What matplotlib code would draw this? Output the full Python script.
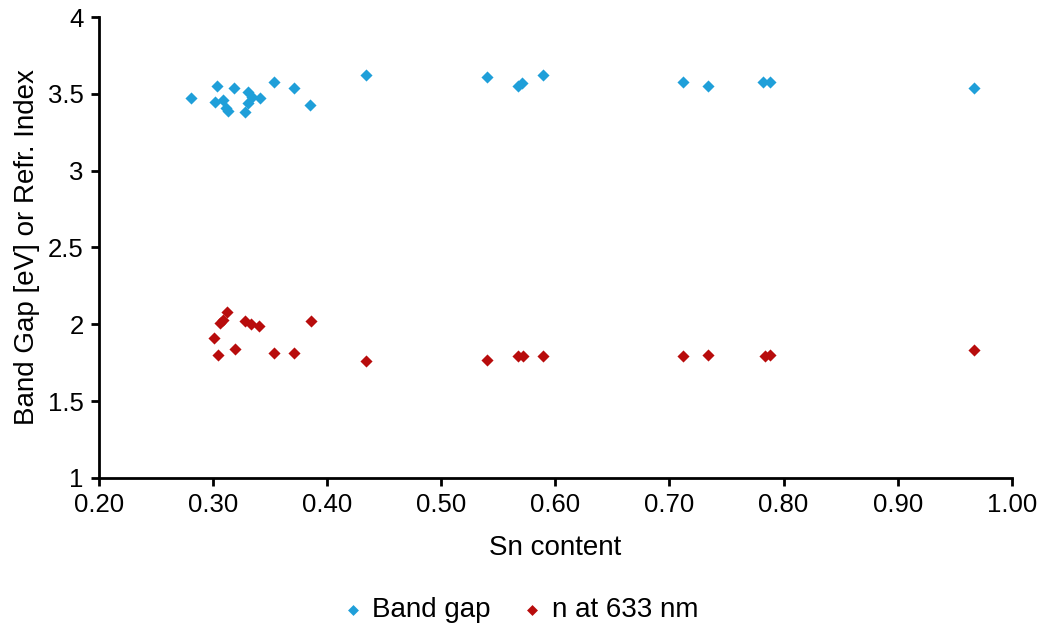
import matplotlib.pyplot as plt

plt.rcParams['font.family'] = ['Liberation Sans', 'DejaVu Sans']

# Sn content vs band gap
gap_x = [0.281, 0.303, 0.318, 0.302, 0.309, 0.311, 0.313, 0.331, 0.334, 0.341,
         0.331, 0.328, 0.353, 0.371, 0.385, 0.434, 0.540, 0.567, 0.571, 0.589,
         0.712, 0.734, 0.782, 0.788, 0.967]
gap_y = [3.47, 3.55, 3.54, 3.45, 3.46, 3.41, 3.39, 3.51, 3.48, 3.47,
         3.44, 3.38, 3.58, 3.54, 3.43, 3.62, 3.61, 3.55, 3.57, 3.62,
         3.58, 3.55, 3.58, 3.58, 3.54]

# Sn content vs refractive index at 633 nm
n_x = [0.301, 0.304, 0.306, 0.309, 0.312, 0.319, 0.328, 0.333, 0.340, 0.353,
       0.371, 0.386, 0.434, 0.540, 0.567, 0.572, 0.589, 0.712, 0.734, 0.784,
       0.788, 0.967]
n_y = [1.91, 1.80, 2.01, 2.03, 2.08, 1.84, 2.02, 2.00, 1.99, 1.81,
       1.81, 2.02, 1.76, 1.77, 1.79, 1.79, 1.79, 1.79, 1.80, 1.79,
       1.80, 1.83]

fig = plt.figure(figsize=(10.42, 6.32), dpi=100)
ax = fig.add_axes([0.095, 0.244, 0.876, 0.729])

ax.scatter(gap_x, gap_y, marker='D', s=38, color='#1F9FD9', linewidths=0,
           label='Band gap')
ax.scatter(n_x, n_y, marker='D', s=38, color='#B80C0C', linewidths=0,
           label='n at 633 nm')

ax.set_xlim(0.2, 1.0)
ax.set_ylim(1, 4)
ax.set_xticks([0.2 + 0.1 * i for i in range(9)])
ax.set_xticklabels(['%.2f' % (0.2 + 0.1 * i) for i in range(9)])
ax.set_yticks([1, 1.5, 2, 2.5, 3, 3.5, 4])
ax.set_yticklabels(['1', '1.5', '2', '2.5', '3', '3.5', '4'])

ax.spines['top'].set_visible(False)
ax.spines['right'].set_visible(False)
ax.spines['left'].set_linewidth(2)
ax.spines['bottom'].set_linewidth(2)
ax.tick_params(direction='out', length=6, width=2, labelsize=18.5, pad=5)

ax.set_xlabel('Sn content', fontsize=20, labelpad=13)
ax.set_ylabel('Band Gap [eV] or Refr. Index', fontsize=20, labelpad=6)

fig.legend(loc='center', bbox_to_anchor=(0.499, 0.035), ncol=2, frameon=False,
           fontsize=20, handlelength=0.8, handletextpad=0.3,
           columnspacing=1.1, markerscale=0.9)

fig.savefig('out.png', dpi=100)
